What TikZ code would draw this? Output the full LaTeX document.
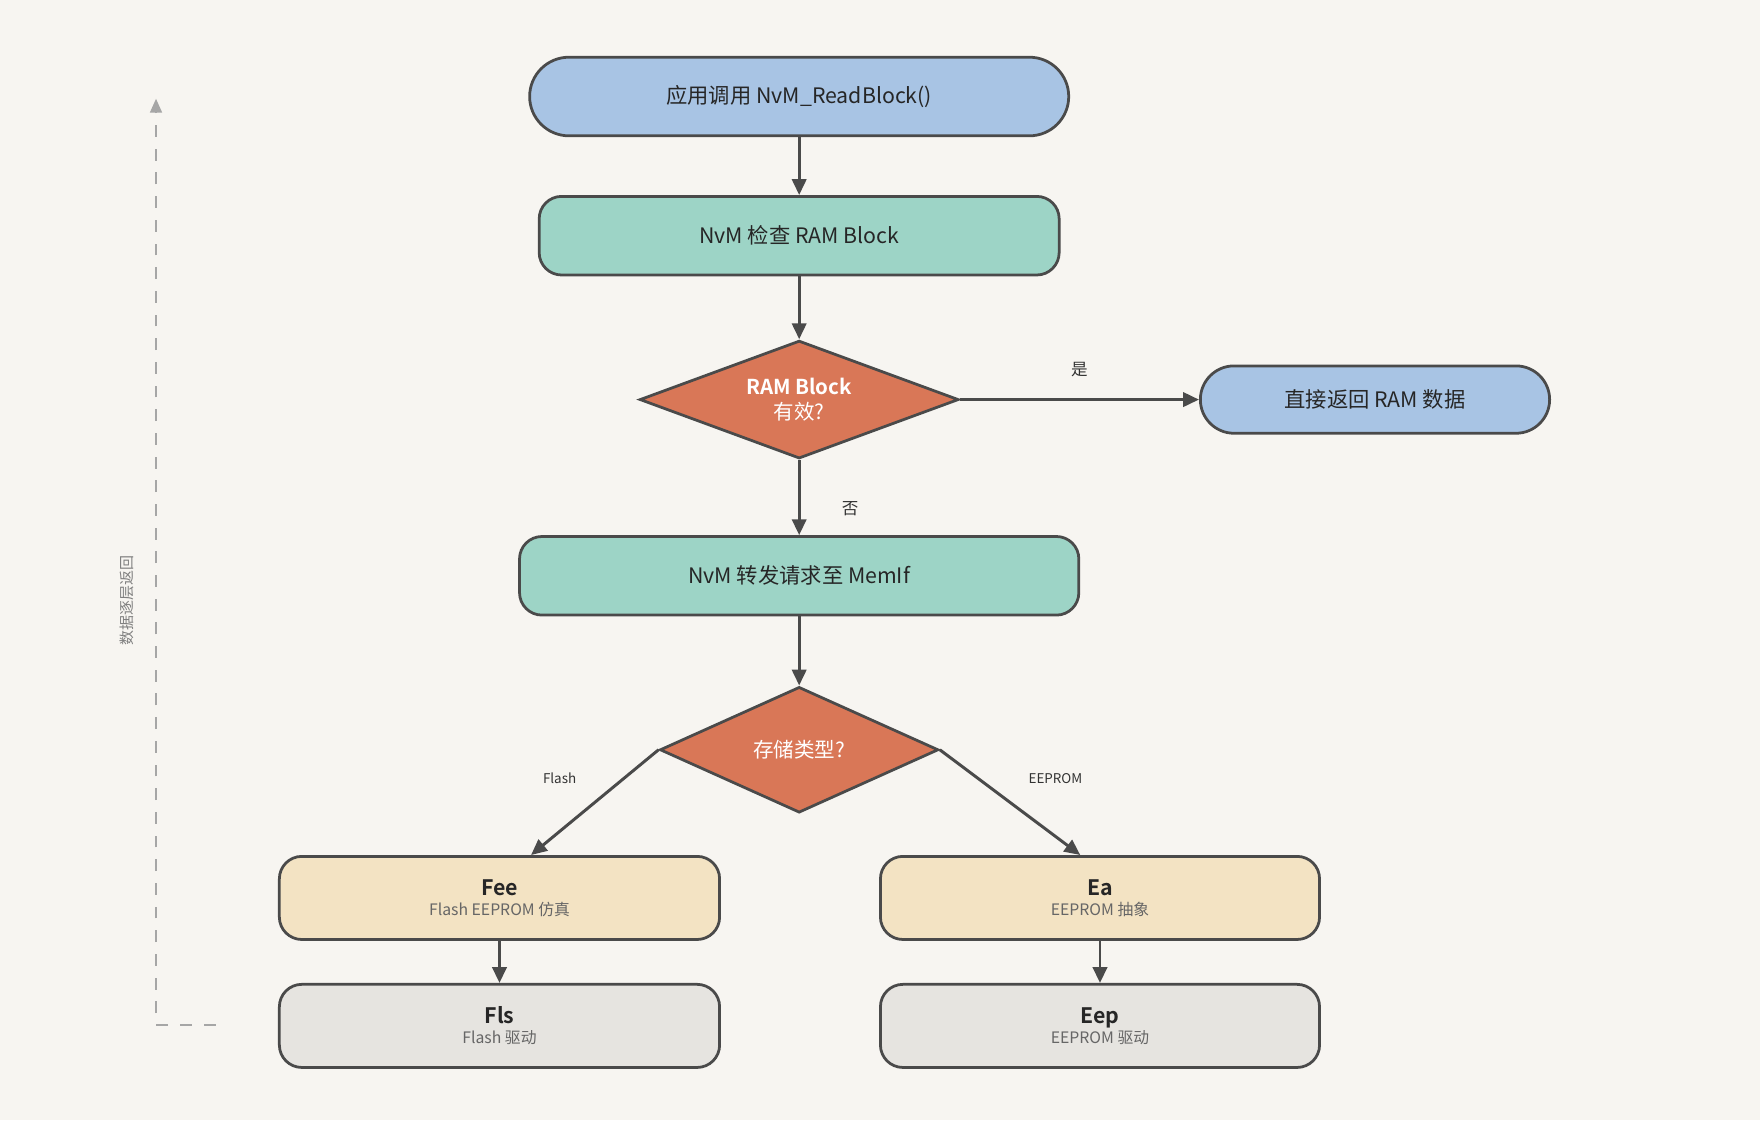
\documentclass[tikz,border=0pt]{standalone}
\usepackage{fontspec}
\setmainfont{Noto Sans CJK SC}
\newfontfamily\cjkbold{Noto Sans CJK SC Bold}
\usetikzlibrary{shapes.geometric,arrows.meta,positioning}
\definecolor{bgcol}{HTML}{F7F5F1}
\definecolor{bluebox}{HTML}{A8C4E4}
\definecolor{tealbox}{HTML}{9DD4C6}
\definecolor{orangedia}{HTML}{D97757}
\definecolor{sandbox}{HTML}{F3E3C3}
\definecolor{greybox}{HTML}{E6E4E0}
\definecolor{edgecol}{HTML}{4A4A4A}
\begin{document}
\begin{tikzpicture}[x=0.01cm,y=-0.01cm,
  box/.style={draw=edgecol,line width=0.7pt,rounded corners=0.2cm,minimum height=0.7cm,font=\fontsize{5.4}{6}\selectfont,text=black!85},
  pill/.style={box,rounded corners=0.35cm},
  dia/.style={diamond,draw=edgecol,line width=0.7pt,fill=orangedia,text=white,aspect=2.6,inner sep=0pt,font=\fontsize{5.2}{6.5}\selectfont},
  arr/.style={draw=edgecol,line width=0.75pt,-{Triangle[length=4pt,width=3.6pt]}},
  lbl/.style={font=\fontsize{4.2}{5}\selectfont,text=black!80}]
\fill[bgcol] (0,0) rectangle (1568,998);
\node[pill,fill=bluebox,minimum width=4.8cm] (app) at (712,86) {应用调用 NvM\_ReadBlock()};
\node[box,fill=tealbox,minimum width=4.63cm] (check) at (712,210) {NvM 检查 RAM Block};
\node[dia,minimum width=2.84cm,minimum height=1.05cm] (valid) at (712,356) {\parbox{1.4cm}{\centering{\cjkbold RAM Block}\\有效?}};
\node[pill,fill=bluebox,minimum width=3.11cm,minimum height=0.6cm,rounded corners=0.3cm] (ret) at (1225,356) {直接返回 RAM 数据};
\node[box,fill=tealbox,minimum width=4.98cm] (fwd) at (712,513) {NvM 转发请求至 MemIf};
\node[dia,minimum width=2.48cm,minimum height=1.12cm] (type) at (712,668) {存储类型?};
\node[box,fill=sandbox,minimum width=3.92cm,minimum height=0.74cm,align=center] (fee) at (445,800) {{\cjkbold Fee}\\[-1pt]{\fontsize{4}{5}\selectfont\color{black!60}Flash EEPROM 仿真}};
\node[box,fill=sandbox,minimum width=3.91cm,minimum height=0.74cm,align=center] (ea) at (980,800) {{\cjkbold Ea}\\[-1pt]{\fontsize{4}{5}\selectfont\color{black!60}EEPROM 抽象}};
\node[box,fill=greybox,minimum width=3.92cm,minimum height=0.74cm,align=center] (fls) at (445,914) {{\cjkbold Fls}\\[-1pt]{\fontsize{4}{5}\selectfont\color{black!60}Flash 驱动}};
\node[box,fill=greybox,minimum width=3.91cm,minimum height=0.74cm,align=center] (eep) at (980,914) {{\cjkbold Eep}\\[-1pt]{\fontsize{4}{5}\selectfont\color{black!60}EEPROM 驱动}};
% connectors
\draw[arr] (app) -- (check);
\draw[arr] (check) -- (valid);
\draw[arr] (valid.east) -- node[lbl,above=2pt]{是} (ret.west);
\draw[arr] (valid.south) -- node[lbl,right=0.25cm,pos=0.65]{否} (fwd.north);
\draw[arr] (fwd) -- (type);
\draw[arr] (type.west) -- node[lbl,above left=1pt and 1pt,font=\fontsize{3.4}{4}\selectfont]{Flash} ([xshift=8]fee.north);
\draw[arr] (type.east) -- node[lbl,above right=1pt and 1pt,font=\fontsize{3.4}{4}\selectfont]{EEPROM} ([xshift=-5]ea.north);
\draw[arr] (fee) -- (fls);
\draw[arr] (ea) -- (eep);
% return path
\coordinate (retstart) at (192,913);
\coordinate (retend) at (139,88);
\draw[gray!70,line width=0.5pt,dash pattern=on 3pt off 3pt,-{Triangle[length=3.5pt,width=3pt]}] (retstart) -| (retend);
\node[rotate=90,font=\fontsize{3.8}{4}\selectfont,text=gray] (rettxt) at (113,535) {数据逐层返回};
\end{tikzpicture}
\end{document}
